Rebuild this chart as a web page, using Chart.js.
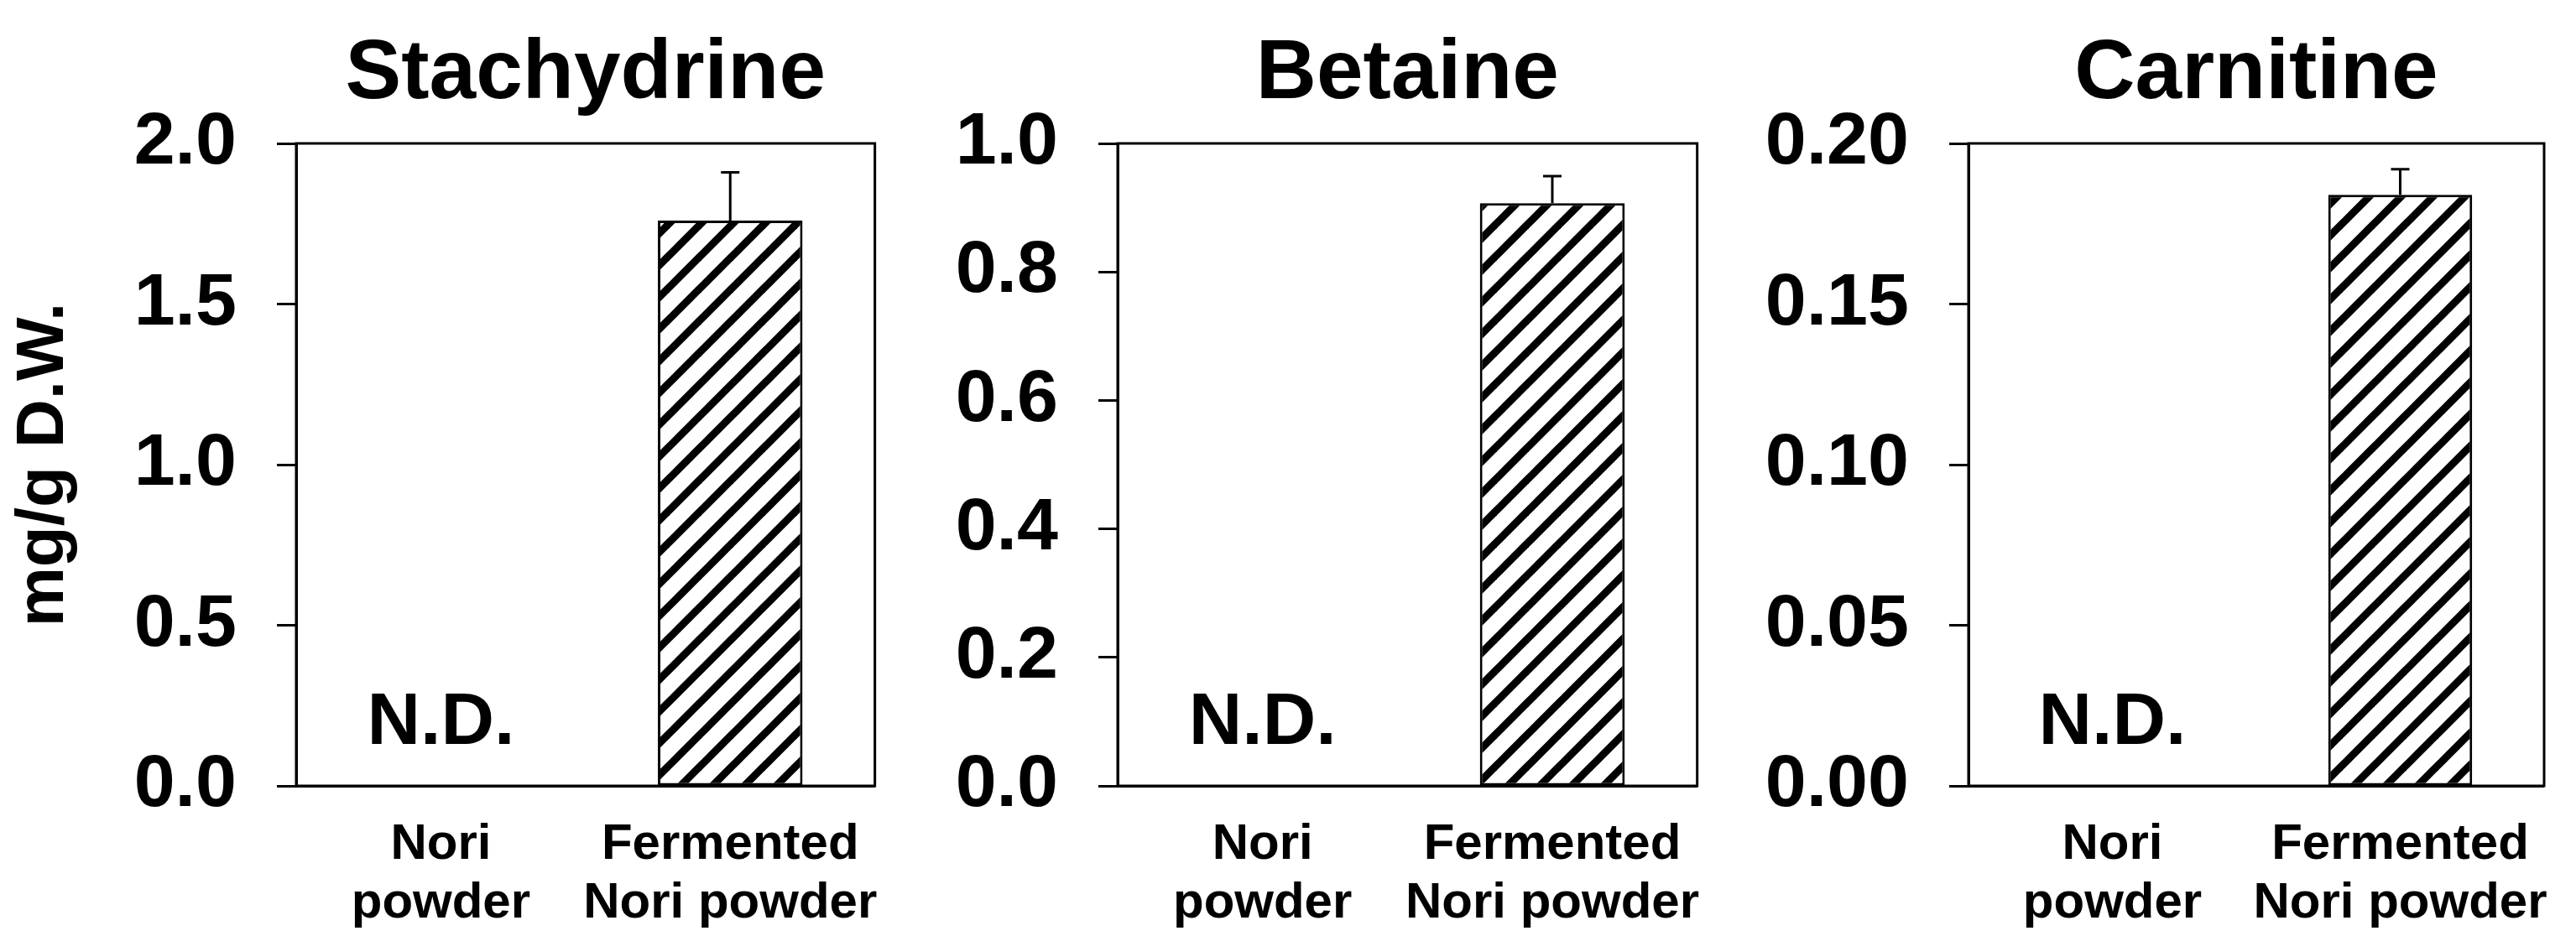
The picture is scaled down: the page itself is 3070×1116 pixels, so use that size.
<!DOCTYPE html>
<html>
<head>
<meta charset="utf-8">
<script src="https://cdn.jsdelivr.net/npm/chart.js@4.4.1/dist/chart.umd.min.js"></script>
<style>
  html, body { margin: 0; padding: 0; background: #fff; overflow: hidden; }
  .panel { position: absolute; top: 0; }
</style>
</head>
<body>
<div class="panel" style="left:0px"><canvas id="c0" width="1080" height="1116"></canvas></div>
<div class="panel" style="left:1100px"><canvas id="c1" width="960" height="1116"></canvas></div>
<div class="panel" style="left:2070px"><canvas id="c2" width="1000" height="1116"></canvas></div>
<script>
// data (mg/g D.W.), N.D. = not detected
const categories = [['Nori', 'powder'], ['Fermented', 'Nori powder']];
const titles = ['Stachydrine', 'Betaine', 'Carnitine'];

const stachydrine = [null, 1.76];
const stachydrineErr = [null, 0.15];
const betaine = [null, 0.907];
const betaineErr = [null, 0.042];
const carnitine = [null, 0.184];
const carnitineErr = [null, 0.008];

const yMax = [2.0, 1.0, 0.20];
const yStep = [0.5, 0.2, 0.05];
const yDecimals = [1, 1, 2];
const notDetected = 'N.D.';

const FONT = '"Liberation Sans", Arial, Helvetica, sans-serif';

// diagonal hatch for the bars
function hatch() {
    const p = 38;
    const tile = document.createElement('canvas');
    tile.width = p;
    tile.height = p;
    const t = tile.getContext('2d');
    t.fillStyle = '#fff';
    t.fillRect(0, 0, p, p);
    t.strokeStyle = '#000';
    t.lineWidth = 9;
    [0, p, 2 * p].forEach(c => {
        t.beginPath();
        t.moveTo(c + p, -p);
        t.lineTo(-p, c + p);
        t.stroke();
    });
    return t.createPattern(tile, 'repeat');
}

// box around the plot area
const framePlugin = {
    id: 'frame',
    afterDatasetsDraw(chart) {
        const { ctx, chartArea: a } = chart;
        ctx.save();
        ctx.strokeStyle = '#000';
        ctx.lineWidth = 3;
        ctx.strokeRect(a.left, a.top, a.right - a.left, a.bottom - a.top);
        ctx.restore();
    }
};

// upper error bars + N.D. text for empty categories
const errorPlugin = {
    id: 'errors',
    afterDatasetsDraw(chart) {
        const { ctx, chartArea: a } = chart;
        const y = chart.scales.y;
        const ds = chart.data.datasets[0];
        const meta = chart.getDatasetMeta(0);
        ctx.save();
        ctx.strokeStyle = '#000';
        ctx.lineWidth = 3;
        ds.data.forEach((v, i) => {
            const x = chart.scales.x.getPixelForValue(i);
            if (v === null) {
                ctx.fillStyle = '#000';
                ctx.font = 'bold 88px ' + FONT;
                ctx.textAlign = 'center';
                ctx.textBaseline = 'alphabetic';
                ctx.fillText(notDetected, x, a.bottom - 50);
                return;
            }
            const err = ds.errors[i];
            const y0 = y.getPixelForValue(v);
            const y1 = y.getPixelForValue(v + err);
            ctx.beginPath();
            ctx.moveTo(meta.data[i].x, y0);
            ctx.lineTo(meta.data[i].x, y1);
            ctx.moveTo(meta.data[i].x - 11, y1);
            ctx.lineTo(meta.data[i].x + 11, y1);
            ctx.stroke();
        });
        ctx.restore();
    }
};

// panel title centred over the plot box
const titlePlugin = {
    id: 'panelTitle',
    afterDraw(chart, args, opts) {
        const { ctx, chartArea: a } = chart;
        ctx.save();
        ctx.fillStyle = '#000';
        ctx.font = 'bold 100px ' + FONT;
        ctx.textAlign = 'center';
        ctx.textBaseline = 'alphabetic';
        ctx.fillText(opts.text, (a.left + a.right) / 2, 117);
        ctx.restore();
    }
};

function makePanel(id, idx, values, errors, yWidth, padRight, showTitle) {
    const ctx = document.getElementById(id).getContext('2d');
    new Chart(ctx, {
        type: 'bar',
        data: {
            labels: categories,
            datasets: [{
                data: values,
                errors: errors,
                backgroundColor: hatch(),
                borderColor: '#000',
                borderWidth: 3,
                borderSkipped: false,
                barPercentage: 0.5,
                categoryPercentage: 1.0
            }]
        },
        options: {
            responsive: false,
            animation: false,
            layout: { padding: { top: 171, right: padRight, left: 0, bottom: 0 } },
            plugins: {
                legend: { display: false },
                tooltip: { enabled: false },
                panelTitle: { text: titles[idx] }
            },
            scales: {
                x: {
                    grid: { display: false },
                    border: { display: true, color: '#000', width: 3 },
                    ticks: {
                        color: '#000',
                        font: { family: FONT, size: 60, weight: 'bold', lineHeight: 70 / 60 },
                        padding: 27,
                        maxRotation: 0,
                        minRotation: 0,
                        autoSkip: false
                    },
                    afterFit: s => { s.height = 179; }
                },
                y: {
                    min: 0,
                    max: yMax[idx],
                    grid: {
                        drawOnChartArea: false,
                        drawTicks: true,
                        tickLength: 23,
                        tickWidth: 3,
                        tickColor: '#000'
                    },
                    border: { display: true, color: '#000', width: 3 },
                    ticks: {
                        stepSize: yStep[idx],
                        color: '#000',
                        padding: 48,
                        font: { family: FONT, size: 88, weight: 'bold' },
                        callback: v => v.toFixed(yDecimals[idx])
                    },
                    title: {
                        display: showTitle,
                        text: 'mg/g D.W.',
                        color: '#000',
                        font: { family: FONT, size: 80, weight: 'bold' },
                        padding: { top: 5, bottom: 0 }
                    },
                    afterFit: s => { s.width = yWidth; }
                }
            }
        },
        plugins: [framePlugin, errorPlugin, titlePlugin]
    });
}

makePanel('c0', 0, stachydrine, stachydrineErr, 353, 31, true);
makePanel('c1', 1, betaine, betaineErr, 232, 32, false);
makePanel('c2', 2, carnitine, carnitineErr, 276, 30, false);
</script>
</body>
</html>
